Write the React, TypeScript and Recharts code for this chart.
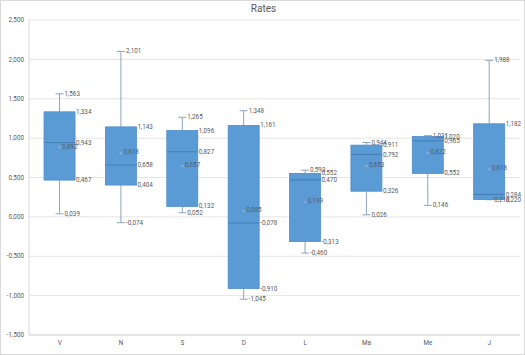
import React from "react";
import { BarChart, Bar, XAxis, YAxis, CartesianGrid } from "recharts";

// box plot values per category
const categories = ["V", "N", "S", "D", "L", "Ma", "Me", "J"];
const minValues = [0.039, -0.074, 0.052, -1.045, -0.46, 0.026, 0.146, 0.218];
const q1Values = [0.467, 0.404, 0.132, -0.91, -0.313, 0.326, 0.552, 0.22];
const medianValues = [0.943, 0.658, 0.827, -0.078, 0.47, 0.792, 0.965, 0.284];
const meanValues = [0.892, 0.818, 0.657, 0.085, 0.199, 0.653, 0.822, 0.618];
const q3Values = [1.334, 1.143, 1.096, 1.161, 0.552, 0.911, 1.02, 1.182];
const maxValues = [1.563, 2.101, 1.265, 1.348, 0.593, 0.944, 1.031, 1.988];
const yTicks = [-1.5, -1, -0.5, 0, 0.5, 1, 1.5, 2, 2.5];

const data = categories.map((name, i) => ({
  name,
  min: minValues[i],
  q1: q1Values[i],
  median: medianValues[i],
  mean: meanValues[i],
  q3: q3Values[i],
  max: maxValues[i],
}));

const fmt = (v: number) => v.toFixed(3).replace(".", ",");

const labelColor = "#595959";
const whiskerColor = "#8ea4bb";
const boxFill = "#5b9bd5";
const fontFamily = "Roboto, 'Open Sans', sans-serif";

function BoxShape(props: any) {
  const { x, y, width, height, payload } = props;
  const d = payload;
  const top = Math.min(y, y + height);
  const h = Math.abs(height);
  const span = d.max - d.min;
  const toY = (v: number) => top + ((d.max - v) / span) * h;
  const cx = x + width / 2;
  const capW = 4;

  const label = (v: number, lx: number, key: string, color = labelColor) => (
    <text
      key={key}
      x={lx}
      y={toY(v)}
      fontSize={6.3}
      fill={color}
      dominantBaseline="central"
      fontFamily={fontFamily}
    >
      {fmt(v)}
    </text>
  );

  return (
    <g>
      <line x1={cx} x2={cx} y1={toY(d.max)} y2={toY(d.q3)} stroke={whiskerColor} strokeWidth={1} />
      <line x1={cx} x2={cx} y1={toY(d.q1)} y2={toY(d.min)} stroke={whiskerColor} strokeWidth={1} />
      <line x1={cx - capW} x2={cx + capW} y1={toY(d.max)} y2={toY(d.max)} stroke={whiskerColor} strokeWidth={1} />
      <line x1={cx - capW} x2={cx + capW} y1={toY(d.min)} y2={toY(d.min)} stroke={whiskerColor} strokeWidth={1} />
      <rect
        x={x}
        y={toY(d.q3)}
        width={width}
        height={toY(d.q1) - toY(d.q3)}
        fill={boxFill}
        stroke="#4f8ccb"
        strokeWidth={0.8}
      />
      <line x1={x} x2={x + width} y1={toY(d.median)} y2={toY(d.median)} stroke="#4279b0" strokeWidth={0.9} />
      <text
        x={cx}
        y={toY(d.mean)}
        fontSize={6}
        fill="#9bb7d6"
        textAnchor="middle"
        dominantBaseline="central"
        fontFamily={fontFamily}
      >
        ×
      </text>
      {label(d.max, cx + capW + 1, "max")}
      {label(d.min, cx + capW + 1, "min")}
      {label(d.q3, x + width + 1, "q3")}
      {label(d.median, x + width + 1, "med")}
      {label(d.q1, x + width + 1, "q1")}
      {label(d.mean, cx + 2.5, "mean", "#4d5c6c")}
    </g>
  );
}

export default function App() {
  return (
    <div
      style={{
        position: "absolute",
        left: 0,
        top: 0,
        width: 525,
        height: 355,
        boxSizing: "border-box",
        border: "1px solid #d9d9d9",
        background: "#fff",
      }}
    >
      <div
        style={{
          position: "absolute",
          left: 0,
          top: 2,
          width: 525,
          textAlign: "center",
          fontFamily,
          fontSize: 10,
          color: labelColor,
        }}
      >
        Rates
      </div>
      <div style={{ position: "absolute", left: -1, top: -1 }}>
        <BarChart
          width={525}
          height={355}
          data={data}
          margin={{ top: 20, right: 5, bottom: 0, left: 0 }}
          barCategoryGap="24.5%"
        >
          <CartesianGrid vertical={false} stroke="#e4e4e4" strokeWidth={1} />
          <XAxis
            dataKey="name"
            height={20}
            tickLine={false}
            tickSize={4}
            tickMargin={2}
            axisLine={{ stroke: "#d9d9d9" }}
            tick={{ fontSize: 6.3, fill: labelColor, fontFamily }}
          />
          <YAxis
            width={29}
            domain={[-1.5, 2.5]}
            ticks={yTicks}
            allowDataOverflow
            tickLine={false}
            tickSize={3}
            tickMargin={2}
            axisLine={{ stroke: "#d9d9d9" }}
            tickFormatter={fmt}
            tick={{ fontSize: 6.3, fill: labelColor, fontFamily }}
          />
          <Bar
            dataKey={(d: any) => [d.min, d.max]}
            shape={BoxShape}
            isAnimationActive={false}
          />
        </BarChart>
      </div>
    </div>
  );
}
